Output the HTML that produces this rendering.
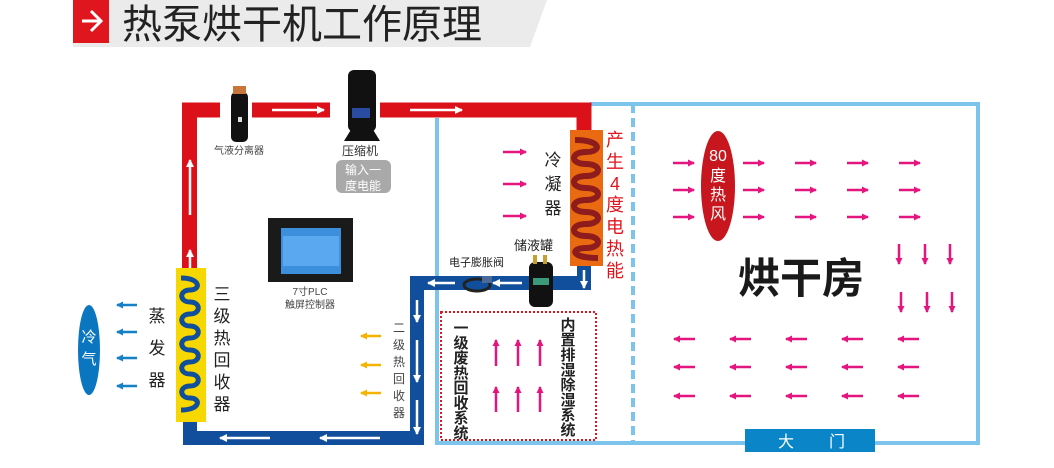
<!DOCTYPE html>
<html><head><meta charset="utf-8"><style>
body{margin:0;background:#fff;}
svg{display:block;font-family:"Liberation Sans","Noto Sans CJK SC",sans-serif;}
</style></head><body>
<svg width="1054" height="468" viewBox="0 0 1054 468" xmlns="http://www.w3.org/2000/svg">
<defs>
<marker id="wa" markerWidth="8" markerHeight="8" refX="7" refY="4" orient="auto" markerUnits="userSpaceOnUse"><path d="M0,0 L8,4 L0,8z" fill="#fff"/></marker>
<marker id="ma" markerWidth="7" markerHeight="7" refX="6" refY="3.5" orient="auto" markerUnits="userSpaceOnUse"><path d="M0,0 L7,3.5 L0,7z" fill="#e4157f"/></marker>
<marker id="ba" markerWidth="7" markerHeight="7" refX="6" refY="3.5" orient="auto" markerUnits="userSpaceOnUse"><path d="M0,0 L7,3.5 L0,7z" fill="#1580c8"/></marker>
<marker id="ya" markerWidth="7" markerHeight="7" refX="6" refY="3.5" orient="auto" markerUnits="userSpaceOnUse"><path d="M0,0 L7,3.5 L0,7z" fill="#f4b400"/></marker>
</defs>
<!-- title -->
<polygon points="73,0 547,0 530,47 73,47" fill="#ebebeb"/>
<rect x="73" y="0" width="36" height="43" fill="#e0161e"/>
<path d="M82,21 L100,21 M91,11 L101,21 L91,31" stroke="#fff" stroke-width="3" fill="none"/>
<text x="122" y="38" font-size="40" fill="#222">热泵烘干机工作原理</text>

<!-- light blue room frame -->
<path d="M437,118 L437,443 L978,443 L978,104 L590,104" stroke="#7cc4ec" stroke-width="4" fill="none"/>
<line x1="633" y1="104" x2="633" y2="443" stroke="#7cc4ec" stroke-width="4" stroke-dasharray="9,5"/>

<!-- red pipe -->
<path d="M189.5,270 L189.5,110 L584,110 L584,132" stroke="#dc1018" stroke-width="15" fill="none"/>
<rect x="220" y="100" width="32" height="20" fill="#fff"/>
<rect x="330" y="100" width="50" height="20" fill="#fff"/>
<!-- blue pipe -->
<path d="M584,265 L584,283 L417,283 L417,438 L190,438 L190,420" stroke="#114e9c" stroke-width="14" fill="none"/>
<!-- white flow arrows -->
<g stroke="#fff" stroke-width="2.5" fill="none" marker-end="url(#wa)">
<line x1="272" y1="110" x2="324" y2="110"/>
<line x1="410" y1="110" x2="462" y2="110"/>
<line x1="190" y1="215" x2="190" y2="160"/>
<line x1="190" y1="305" x2="190" y2="250"/>
<line x1="270" y1="438" x2="220" y2="438"/>
<line x1="380" y1="438" x2="320" y2="438"/>
<line x1="417" y1="300" x2="417" y2="322"/>
<line x1="417" y1="340" x2="417" y2="382"/>
<line x1="417" y1="400" x2="417" y2="434"/>
<line x1="455" y1="283" x2="428" y2="283"/>
<line x1="522" y1="283" x2="493" y2="283"/>
<line x1="584" y1="270" x2="584" y2="288"/>
</g>

<!-- separator -->
<rect x="231" y="92" width="17" height="50" rx="5" fill="#111"/>
<rect x="233" y="86" width="13" height="8" fill="#c8763a"/>
<rect x="238" y="117" width="4" height="5" fill="#ddd"/>
<text x="214" y="154" font-size="10" fill="#444">气液分离器</text>
<!-- compressor -->
<rect x="348" y="70" width="28" height="62" rx="6" fill="#111"/>
<rect x="352" y="108" width="18" height="10" fill="#2a4ca0"/>
<path d="M344,141 L380,141 L372,128 L352,128z" fill="#111"/>
<text x="342" y="155" font-size="12" fill="#333">压缩机</text>
<rect x="336" y="160" width="55" height="33" rx="6" fill="#a9a9a9"/>
<text x="363" y="174" font-size="12" fill="#fff" text-anchor="middle">输入一</text>
<text x="363" y="190" font-size="12" fill="#fff" text-anchor="middle">度电能</text>

<!-- PLC -->
<rect x="268" y="218" width="85" height="64" fill="#1a1a1a"/>
<rect x="281" y="228" width="60" height="46" fill="#3c8fdc"/>
<rect x="283" y="236" width="56" height="30" fill="#5aa8ef"/>
<text x="310" y="295" font-size="10" fill="#444" text-anchor="middle">7寸PLC</text>
<text x="310" y="308" font-size="10" fill="#444" text-anchor="middle">触屏控制器</text>

<!-- condenser -->
<rect x="570" y="130" width="33" height="136" fill="#ea6a12"/>
<path d="M575,140 C602,140 602,152 586,152 C570,152 570,164 586,164 C602,164 602,176 586,176 C570,176 570,188 586,188 C602,188 602,200 586,200 C570,200 570,212 586,212 C602,212 602,224 586,224 C570,224 570,236 586,236 C602,236 602,248 586,248 C570,248 570,258 598,258" stroke="#8e1c1c" stroke-width="6" fill="none"/>
<g font-size="18" fill="#e0161e" text-anchor="middle">
<text x="615" y="146">产</text><text x="615" y="168">生</text><text x="615" y="190">4</text><text x="615" y="211">度</text><text x="615" y="233">电</text><text x="615" y="255">热</text><text x="615" y="277">能</text>
</g>
<g font-size="17" fill="#222" text-anchor="middle">
<text x="553" y="166">冷</text><text x="553" y="190">凝</text><text x="553" y="214">器</text>
</g>
<g stroke="#e4157f" stroke-width="2.5" marker-end="url(#ma)">
<line x1="503" y1="152" x2="526" y2="152"/><line x1="503" y1="184" x2="526" y2="184"/><line x1="503" y1="216" x2="526" y2="216"/>
</g>

<!-- tank and valve -->
<text x="514" y="250" font-size="13" fill="#222">储液罐</text>
<text x="449" y="266" font-size="11" fill="#222">电子膨胀阀</text>
<rect x="529" y="262" width="24" height="45" rx="6" fill="#111"/>
<rect x="533" y="255" width="4" height="9" fill="#c8a030"/><rect x="543" y="255" width="4" height="9" fill="#c8a030"/>
<rect x="533" y="278" width="16" height="7" fill="#3a9a7a"/>
<ellipse cx="477" cy="285" rx="13" ry="6" fill="none" stroke="#222" stroke-width="3"/>
<rect x="482" y="276" width="10" height="7" fill="#4a6a9a"/>

<!-- dotted box -->
<rect x="441" y="312" width="155" height="128" fill="none" stroke="#e0161e" stroke-width="2" stroke-dasharray="2,2"/>
<g font-size="15" font-weight="bold" fill="#222" text-anchor="middle">
<text x="461" y="333">一</text><text x="461" y="348">级</text><text x="461" y="363">废</text><text x="461" y="378">热</text><text x="461" y="393">回</text><text x="461" y="408">收</text><text x="461" y="423">系</text><text x="461" y="438">统</text>
<text x="568" y="330">内</text><text x="568" y="345">置</text><text x="568" y="360">排</text><text x="568" y="375">湿</text><text x="568" y="390">除</text><text x="568" y="405">湿</text><text x="568" y="420">系</text><text x="568" y="435">统</text>
</g>
<g stroke="#e4157f" stroke-width="2.5" marker-end="url(#ma)">
<line x1="496" y1="366" x2="496" y2="340"/><line x1="518" y1="366" x2="518" y2="340"/><line x1="540" y1="366" x2="540" y2="340"/>
<line x1="496" y1="412" x2="496" y2="387"/><line x1="518" y1="412" x2="518" y2="387"/><line x1="540" y1="412" x2="540" y2="387"/>
</g>

<!-- secondary recovery -->
<g stroke="#f4b400" stroke-width="2.5" marker-end="url(#ya)">
<line x1="381" y1="336" x2="361" y2="336"/><line x1="381" y1="365" x2="361" y2="365"/><line x1="381" y1="393" x2="361" y2="393"/>
</g>
<g font-size="12" fill="#444" text-anchor="middle">
<text x="399" y="332">二</text><text x="399" y="349">级</text><text x="399" y="366">热</text><text x="399" y="383">回</text><text x="399" y="400">收</text><text x="399" y="417">器</text>
</g>

<!-- evaporator -->
<rect x="176" y="268" width="30" height="154" fill="#f6d800"/>
<path d="M181,278 C201,278 201,290 190,290 C179,290 179,302 190,302 C201,302 201,314 190,314 C179,314 179,326 190,326 C201,326 201,338 190,338 C179,338 179,350 190,350 C201,350 201,362 190,362 C179,362 179,374 190,374 C201,374 201,386 190,386 C179,386 179,398 190,398 C201,398 201,410 181,410" stroke="#114e9c" stroke-width="5" fill="none"/>
<g font-size="17" fill="#222" text-anchor="middle">
<text x="222" y="300">三</text><text x="222" y="322">级</text><text x="222" y="344">热</text><text x="222" y="366">回</text><text x="222" y="388">收</text><text x="222" y="410">器</text>
<text x="157" y="322">蒸</text><text x="157" y="354">发</text><text x="157" y="386">器</text>
</g>
<g stroke="#1580c8" stroke-width="2.5" marker-end="url(#ba)">
<line x1="137" y1="305" x2="117" y2="305"/><line x1="137" y1="332" x2="117" y2="332"/><line x1="137" y1="358" x2="117" y2="358"/><line x1="137" y1="386" x2="117" y2="386"/>
</g>
<ellipse cx="89" cy="350" rx="11" ry="45" fill="#0a76c0"/>
<text x="89" y="342" font-size="15" fill="#fff" text-anchor="middle">冷</text>
<text x="89" y="364" font-size="15" fill="#fff" text-anchor="middle">气</text>

<!-- drying room -->
<ellipse cx="718" cy="186" rx="17" ry="55" fill="#c8161e"/>
<g font-size="16" fill="#fff" text-anchor="middle">
<text x="718" y="161">80</text><text x="718" y="181">度</text><text x="718" y="200">热</text><text x="718" y="219">风</text>
</g>
<text x="801" y="293" font-size="42" font-weight="bold" fill="#1a1a1a" text-anchor="middle">烘干房</text>
<g stroke="#e4157f" stroke-width="2.5" marker-end="url(#ma)">
<line x1="673" y1="163" x2="694" y2="163"/><line x1="673" y1="190" x2="694" y2="190"/><line x1="673" y1="217" x2="694" y2="217"/>
<line x1="743" y1="163" x2="764" y2="163"/><line x1="743" y1="190" x2="764" y2="190"/><line x1="743" y1="217" x2="764" y2="217"/>
<line x1="795" y1="163" x2="816" y2="163"/><line x1="795" y1="190" x2="816" y2="190"/><line x1="795" y1="217" x2="816" y2="217"/>
<line x1="847" y1="163" x2="868" y2="163"/><line x1="847" y1="190" x2="868" y2="190"/><line x1="847" y1="217" x2="868" y2="217"/>
<line x1="899" y1="163" x2="920" y2="163"/><line x1="899" y1="190" x2="920" y2="190"/><line x1="899" y1="217" x2="920" y2="217"/>
<line x1="899" y1="244" x2="899" y2="264"/><line x1="925" y1="244" x2="925" y2="264"/><line x1="950" y1="244" x2="950" y2="264"/>
<line x1="901" y1="292" x2="901" y2="312"/><line x1="927" y1="292" x2="927" y2="312"/><line x1="952" y1="292" x2="952" y2="312"/>
<line x1="695" y1="339" x2="674" y2="339"/><line x1="695" y1="367" x2="674" y2="367"/><line x1="695" y1="396" x2="674" y2="396"/>
<line x1="751" y1="339" x2="730" y2="339"/><line x1="751" y1="367" x2="730" y2="367"/><line x1="751" y1="396" x2="730" y2="396"/>
<line x1="807" y1="339" x2="786" y2="339"/><line x1="807" y1="367" x2="786" y2="367"/><line x1="807" y1="396" x2="786" y2="396"/>
<line x1="863" y1="339" x2="842" y2="339"/><line x1="863" y1="367" x2="842" y2="367"/><line x1="863" y1="396" x2="842" y2="396"/>
<line x1="919" y1="339" x2="898" y2="339"/><line x1="919" y1="367" x2="898" y2="367"/><line x1="919" y1="396" x2="898" y2="396"/>
</g>
<rect x="745" y="429" width="130" height="23" fill="#0a86c8"/>
<text x="786" y="447" font-size="16" fill="#fff" text-anchor="middle">大</text>
<text x="837" y="447" font-size="16" fill="#fff" text-anchor="middle">门</text>
</svg>
</body></html>
